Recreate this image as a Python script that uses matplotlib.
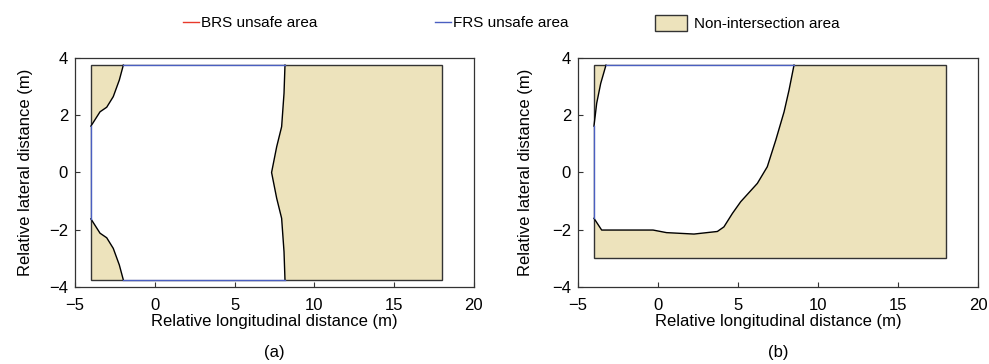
import matplotlib
matplotlib.use("Agg")
import matplotlib.pyplot as plt
from matplotlib.patches import Patch
from matplotlib.lines import Line2D

plt.rcParams['font.family'] = ['Liberation Sans', 'DejaVu Sans']
plt.rcParams['font.size'] = 12

# Region bounds
rect_a = dict(x0=-4.0, x1=18.0, y0=-3.75, y1=3.75)
rect_b = dict(x0=-4.0, x1=18.0, y0=-3.0, y1=3.75)

# Panel (a) boundary curves
a_left_top_x = [-4.0, -3.43, -3.01, -2.6, -2.22, -1.97]
a_left_top_y = [1.62, 2.12, 2.28, 2.65, 3.23, 3.75]
a_left_bot_x = [-4.0, -3.43, -3.01, -2.6, -2.22, -1.97]
a_left_bot_y = [-1.62, -2.12, -2.28, -2.65, -3.23, -3.75]
a_right_x = [8.16, 8.1, 7.95, 7.64, 7.32, 7.64, 7.95, 8.1, 8.16]
a_right_y = [3.75, 2.77, 1.6, 0.9, 0.0, -0.9, -1.6, -2.77, -3.75]

# Panel (b) boundary curves
b_left_x = [-4.0, -3.83, -3.58, -3.25]
b_left_y = [1.62, 2.42, 3.11, 3.75]
b_right_x = [-4.0, -3.52, -0.31, 0.53, 2.25, 3.71, 4.12, 4.65, 5.17, 6.21, 6.83, 7.36, 7.88, 8.19, 8.5]
b_right_y = [-1.6, -2.01, -2.01, -2.1, -2.15, -2.06, -1.9, -1.43, -1.02, -0.38, 0.2, 1.13, 2.12, 2.88, 3.75]

xticks = [-5, 0, 5, 10, 15, 20]
yticks = [-4, -2, 0, 2, 4]
xlabel = "Relative longitudinal distance (m)"
ylabel = "Relative lateral distance (m)"
legend_labels = ["BRS unsafe area", "FRS unsafe area", "Non-intersection area"]

TAN = '#ede3bc'
EDGE = '#333333'
BLUE = '#4a5fc1'
RED = '#e8392b'

fig = plt.figure(figsize=(9.89, 3.64), dpi=100)
axa = fig.add_axes([0.0758, 0.2115, 0.4034, 0.6292])
axb = fig.add_axes([0.5844, 0.2115, 0.4045, 0.6292])


def base(ax, r):
    ax.fill([r['x0'], r['x1'], r['x1'], r['x0']], [r['y0'], r['y0'], r['y1'], r['y1']],
            facecolor=TAN, edgecolor=EDGE, linewidth=1.0, zorder=1)


def style(ax, lab, ylx):
    ax.set_xlim(-5, 20)
    ax.set_ylim(-4, 4)
    ax.set_xticks(xticks)
    ax.set_yticks(yticks)
    ax.tick_params(direction='in', length=3.5, width=0.8, colors=EDGE, labelcolor='black', labelsize=12)
    ax.tick_params(axis='x', pad=8)
    ax.tick_params(axis='y', pad=5)
    for s in ax.spines.values():
        s.set_color(EDGE)
        s.set_linewidth(0.9)
    ax.set_xlabel(xlabel, fontsize=12)
    ax.xaxis.set_label_coords(0.5, -0.118)
    ax.set_ylabel(ylabel, fontsize=12)
    ax.yaxis.set_label_coords(ylx, 0.5)
    ax.text(0.5, -0.284, lab, transform=ax.transAxes, ha='center', va='center', fontsize=12)


# Panel (a)
base(axa, rect_a)
px = [-4.0] + a_left_top_x + a_right_x + a_left_bot_x[::-1]
py = [-1.62] + a_left_top_y + a_right_y + a_left_bot_y[::-1]
axa.fill(px, py, facecolor='white', edgecolor='none', zorder=2)
axa.plot(a_left_top_x, a_left_top_y, color='black', lw=1.0, zorder=3)
axa.plot(a_left_bot_x, a_left_bot_y, color='black', lw=1.0, zorder=3)
axa.plot(a_right_x, a_right_y, color='black', lw=1.0, zorder=3)
axa.plot([a_left_top_x[-1], a_right_x[0]], [3.75, 3.75], color=BLUE, lw=1.0, zorder=4)
axa.plot([a_left_bot_x[-1], a_right_x[-1]], [-3.75, -3.75], color=BLUE, lw=1.0, zorder=4)
axa.plot([-4.0, -4.0], [a_left_bot_y[0], a_left_top_y[0]], color=BLUE, lw=1.0, zorder=4)
style(axa, "(a)", -0.105)

# Panel (b)
base(axb, rect_b)
px = b_left_x + b_right_x[::-1]
py = b_left_y + b_right_y[::-1]
axb.fill(px, py, facecolor='white', edgecolor='none', zorder=2)
axb.plot(b_left_x, b_left_y, color='black', lw=1.0, zorder=3)
axb.plot(b_right_x, b_right_y, color='black', lw=1.0, zorder=3)
axb.plot([b_left_x[-1], b_right_x[-1]], [3.75, 3.75], color=BLUE, lw=1.0, zorder=4)
axb.plot([-4.0, -4.0], [b_right_y[0], b_left_y[0]], color=BLUE, lw=1.0, zorder=4)
style(axb, "(b)", -0.112)

handles = [Line2D([], [], color=RED, lw=1.0),
           Line2D([], [], color=BLUE, lw=1.0),
           Patch(facecolor=TAN, edgecolor=EDGE, linewidth=1.0)]
leg_x = [0.185, 0.440, 0.662]
leg_hl = [1.05, 1.05, 2.1]
leg_hh = [0.7, 0.7, 1.25]
leg_tp = [0.15, 0.15, 0.5]
for h, lab, x, hl, hh, tp in zip(handles, legend_labels, leg_x, leg_hl, leg_hh, leg_tp):
    fig.legend([h], [lab], loc='center left', bbox_to_anchor=(x, 0.937), frameon=False,
               fontsize=11, handlelength=hl, handleheight=hh, handletextpad=tp,
               borderpad=0, borderaxespad=0)

fig.savefig('out.png', dpi=100)
